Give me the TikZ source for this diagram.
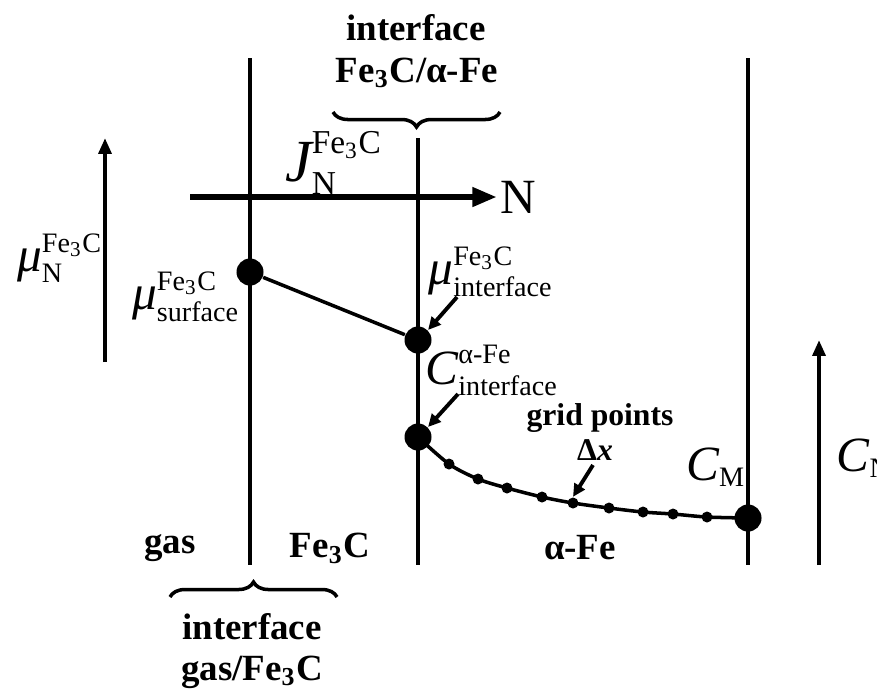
\documentclass[tikz,border=0pt]{standalone}
\usepackage{amsmath}
\usepackage{fontspec}
\setmainfont{Liberation Serif}
\usetikzlibrary{arrows.meta,decorations.pathreplacing}
\DeclareMathSizes{11.5}{11.5}{8}{6}
\DeclareMathSizes{14}{14}{9.5}{7}
\newcommand\bigsym[2][14]{\text{\fontsize{#1}{#1}\selectfont\itshape #2}}

\begin{document}
\begin{tikzpicture}[
  x=0.01cm,
  y=-0.01cm,
  every node/.style={font=\fontsize{10.5}{12}\selectfont, inner sep=0pt},
  boldlbl/.style={font=\fontsize{10.5}{12}\selectfont\bfseries},
  smallbold/.style={font=\fontsize{9}{11}\selectfont\bfseries},
  mathlbl/.style={font=\fontsize{11.5}{14}\selectfont},
  biglbl/.style={font=\fontsize{14}{16}\selectfont},
  phase/.style={line width=1.1pt},
  axis/.style={line width=1.4pt, -{Triangle[length=4.5pt, width=3.6pt]}},
  flux/.style={line width=1.8pt, -{Triangle[length=7pt, width=5.2pt]}},
  pointer/.style={line width=1.1pt, -{Triangle[length=3.6pt, width=3.4pt]}},
  bigdot/.style={circle, fill, minimum size=0.27cm},
  griddot/.style={circle, fill, minimum size=0.11cm},
  profile/.style={line width=1pt},
  brc/.style={line width=1pt, decorate, decoration={brace, amplitude=0.15cm}}
]
  \useasboundingbox (0,0) rectangle (877,696);

  %% ---- phase boundaries --------------------------------------------------
  \coordinate (gastop) at (250,58);  \coordinate (gasbot) at (250,565);
  \coordinate (feCtop) at (418,138); \coordinate (feCbot) at (418,565);
  \coordinate (endtop) at (748,58);  \coordinate (endbot) at (748,565);
  \draw[phase] (gastop) -- (gasbot);
  \draw[phase] (feCtop) -- (feCbot);
  \draw[phase] (endtop) -- (endbot);

  %% ---- axes and flux -----------------------------------------------------
  \coordinate (muaxlo) at (105,362);  \coordinate (muaxhi) at (105,138);
  \coordinate (caxlo) at (819,565);   \coordinate (caxhi) at (819,340);
  \coordinate (fluxs) at (190,197);   \coordinate (fluxe) at (497,197);
  \draw[axis] (muaxlo) -- (muaxhi);
  \draw[axis] (caxlo) -- (caxhi);
  \draw[flux] (fluxs) -- (fluxe);
  \node[biglbl, anchor=west] (nsym) at (500,197) {N};
  \node[biglbl] (jlbl) at (334,163)
    {$\bigsym[17]{J}_{\text{N}}^{\text{Fe\textsubscript{3}C}}$};
  \node[mathlbl] (mulbl) at (60,258)
    {$\bigsym{μ}_{\text{N}}^{\text{Fe\textsubscript{3}C}}$};
  \node[mathlbl, anchor=west] (cnlbl) at (836,458) {$\bigsym{C}_{\text{N}}$};

  %% ---- potential in Fe3C -------------------------------------------------
  \node[bigdot] (surf) at (250,272) {};
  \node[bigdot] (intf) at (418,340) {};
  \draw[profile] (surf) -- (intf);
  \node[mathlbl] (surflbl) at (186,297)
    {$\bigsym{μ}_{\text{surface}}^{\text{Fe\textsubscript{3}C}}$};
  \node[mathlbl] (intflbl) at (491,272)
    {$\bigsym{μ}_{\text{interface}}^{\text{Fe\textsubscript{3}C}}$};
  \coordinate (intfptr) at (457,297);
  \draw[pointer] (intfptr) -- (intf.north east);

  %% ---- concentration profile in alpha-Fe ---------------------------------
  \node[bigdot] (cint) at (418,437) {};
  \node[bigdot] (cm) at (748,518) {};
  \foreach \gx/\gy [count=\i] in {449/464, 478/479, 507/488, 542/497,
      573/503, 609/508, 643/512, 673/514, 707/517}
    \node[griddot] (g\i) at (\gx,\gy) {};
  \draw[profile] plot[smooth] coordinates {(cint) (g1) (g2) (g3) (g4)
      (g5) (g6) (g7) (g8) (g9) (cm)};
  \node[mathlbl] (cintlbl) at (492,370)
    {$\bigsym{C}_{\text{interface}}^{\text{α-Fe}}$};
  \coordinate (cintptr) at (458,394);
  \draw[pointer] (cintptr) -- (cint.north east);
  \node[mathlbl] (cmlbl) at (716,467) {$\bigsym{C}_{\text{M}}$};
  \node[smallbold] (gridlbl) at (600,418) {grid points};
  \node[smallbold] (dxlbl) at (595,450) {Δ\textit{x}};
  \coordinate (gridptr) at (593,465);
  \draw[pointer] (gridptr) -- (g5.north);

  %% ---- phases and interfaces ---------------------------------------------
  \node[boldlbl] (gaslbl) at (170,548) {gas};
  \node[boldlbl] (fe3clbl) at (330,548) {Fe\textsubscript{3}C};
  \node[boldlbl] (alfelbl) at (580,548) {α-Fe};
  \node[boldlbl] (topint) at (416,28) {interface};
  \node[boldlbl] (topfe) at (417,73) {Fe\textsubscript{3}C/α-Fe};
  \node[boldlbl] (botint) at (252,627) {interface};
  \node[boldlbl] (botgas) at (252,672) {gas/Fe\textsubscript{3}C};
  \coordinate (tbrl) at (333,112);  \coordinate (tbrr) at (500,112);
  \coordinate (bbrl) at (170,597);  \coordinate (bbrr) at (337,597);
  \draw[brc] (tbrr) -- (tbrl);
  \draw[brc] (bbrl) -- (bbrr);
\end{tikzpicture}
\end{document}
